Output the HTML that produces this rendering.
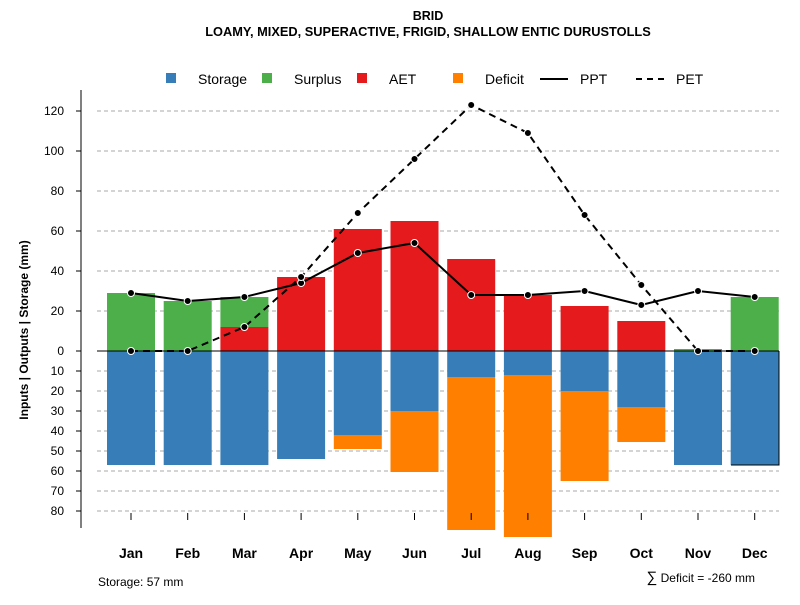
<!DOCTYPE html>
<html><head><meta charset="utf-8"><style>
body{margin:0;background:#fff;font-family:"Liberation Sans",sans-serif}
svg text{font-family:"Liberation Sans",sans-serif}
</style></head><body>
<svg id="c" width="800" height="600" xmlns="http://www.w3.org/2000/svg">
<text x="428" y="20" text-anchor="middle" font-size="12.5" font-weight="bold">BRID</text>
<text x="428" y="36" text-anchor="middle" font-size="12.8" font-weight="bold">LOAMY, MIXED, SUPERACTIVE, FRIGID, SHALLOW ENTIC DURUSTOLLS</text>
<g font-size="14">
<rect x="166" y="73" width="10" height="10" fill="#377eb8"/><text x="198" y="84">Storage</text>
<rect x="262" y="73" width="10" height="10" fill="#4daf4a"/><text x="294" y="84">Surplus</text>
<rect x="357" y="73" width="10" height="10" fill="#e41a1c"/><text x="389" y="84">AET</text>
<rect x="453" y="73" width="10" height="10" fill="#ff7f00"/><text x="485" y="84">Deficit</text>
<line x1="540" y1="79" x2="568" y2="79" stroke="#000" stroke-width="2"/><text x="580" y="84">PPT</text>
<line x1="636" y1="79" x2="664" y2="79" stroke="#000" stroke-width="2" stroke-dasharray="6,5"/><text x="676" y="84">PET</text>
</g>
<text transform="translate(28,330) rotate(-90)" text-anchor="middle" font-size="12" font-weight="bold">Inputs | Outputs | Storage    (mm)</text>
<g id="grid"></g><g id="bars"></g><g id="lines"></g><g id="axes"></g>
<text x="98" y="586" font-size="12">Storage: 57 mm</text>
<text x="755" y="582" text-anchor="end" font-size="12"><tspan font-size="15">∑</tspan> Deficit = -260 mm</text>
</svg>
<script>
const months=["Jan","Feb","Mar","Apr","May","Jun","Jul","Aug","Sep","Oct","Nov","Dec"];
const storage=[57,57,57,54,42,30,13,12,20,28,57,57];
const deficit=[0,0,0,0,7,30.5,76.5,81,45,17.5,0,0];
const aet=[0,0,12,37,61,65,46,28,22.5,15,0,0];
const surplus=[29,25,15,0,0,0,0,0,0,0,1,27];
const ppt=[29,25,27,34,49,54,28,28,30,23,30,27];
const pet=[0,0,12,37,69,96,123,109,68,33,0,0];
const posTicks=[0,20,40,60,80,100,120];
const negTicks=[10,20,30,40,50,60,70,80];
const NS="http://www.w3.org/2000/svg";
const y=v=>351-2*v, x=i=>131+i*56.7, bw=48;
function mk(t,a,p){const e=document.createElementNS(NS,t);for(const k in a)e.setAttribute(k,a[k]);document.getElementById(p).appendChild(e);return e;}
posTicks.concat(negTicks.map(v=>-v)).forEach(v=>{if(v===0)return;
 const g=mk('line',{x1:97,x2:779,y1:y(v),y2:y(v),stroke:'#aaa','stroke-dasharray':'4,3'},'grid');
 
 
 const tk=mk('line',{x1:76,x2:81,y1:y(v),y2:y(v),stroke:'#000'},'axes');
 
 
 const t=mk('text',{x:64,y:y(v)+4,'text-anchor':'end','font-size':12},'axes');t.textContent=Math.abs(v);
 
 });
{const tk=mk('line',{x1:76,x2:81,y1:351,y2:351,stroke:'#000'},'axes');
 const t=mk('text',{x:64,y:355,'text-anchor':'end','font-size':12},'axes');t.textContent='0';}
function bar(i,top,bot,col,name){const r=mk('rect',{x:x(i)-bw/2,y:y(top),width:bw,height:Math.max(0,y(bot)-y(top)),fill:col},'bars');
 
 }
months.forEach((m,i)=>{
 bar(i,0,-storage[i],'#377eb8','bar-storage-'+m.toLowerCase());
 if(deficit[i]>0)bar(i,-storage[i],-storage[i]-deficit[i],'#ff7f00','bar-deficit-'+m.toLowerCase());
 if(aet[i]>0)bar(i,aet[i],0,'#e41a1c','bar-aet-'+m.toLowerCase());
 if(surplus[i]>0)bar(i,aet[i]+surplus[i],aet[i],'#4daf4a','bar-surplus-'+m.toLowerCase());
 const tk=mk('line',{x1:x(i),x2:x(i),y1:513,y2:520,stroke:'#000'},'axes');
 
 
 const t=mk('text',{x:x(i),y:558,'text-anchor':'middle','font-size':14,'font-weight':'bold'},'axes');t.textContent=m;
 
 
});
const z=mk('line',{x1:97,x2:779,y1:351,y2:351,stroke:'#000'},'bars');
const sb=mk('polyline',{points:`731,${y(-57)} 779,${y(-57)} 779,351`,fill:'none',stroke:'#000'},'bars');
const ax=mk('line',{x1:81,x2:81,y1:90,y2:528,stroke:'#000'},'axes');
function series(arr,dash,name){
 const p=mk('polyline',{points:arr.map((v,i)=>x(i)+','+y(v)).join(' '),fill:'none',stroke:'#000','stroke-width':2,'stroke-dasharray':dash},'lines');
 
 
 arr.forEach((v,i)=>{const c=mk('circle',{cx:x(i),cy:y(v),r:3.5,fill:'#000',stroke:'#fff','stroke-width':1},'lines');
 
 });
}
series(ppt,'none','ppt');
series(pet,'7,5','pet');
</script>
</body></html>
